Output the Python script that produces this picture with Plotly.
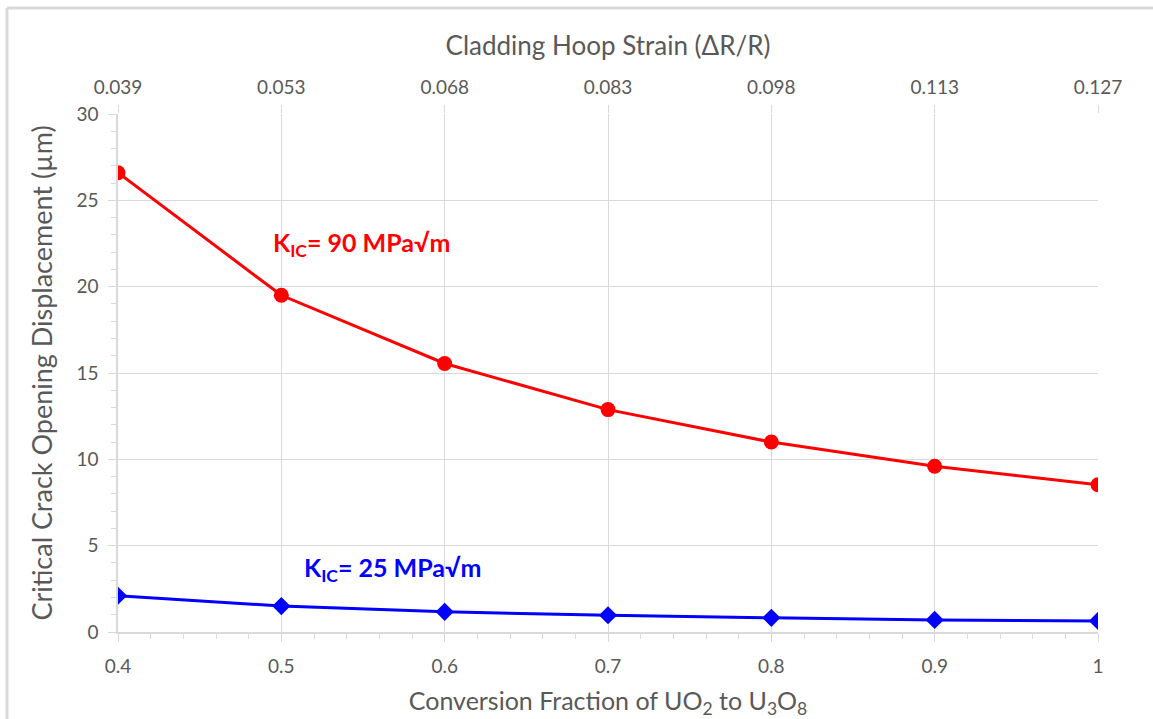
import plotly.graph_objects as go

conversion = [0.4, 0.5, 0.6, 0.7, 0.8, 0.9, 1.0]
conversion_labels = ["0.4", "0.5", "0.6", "0.7", "0.8", "0.9", "1"]
strain_labels = ["0.039", "0.053", "0.068", "0.083", "0.098", "0.113", "0.127"]
ctod_k90 = [26.6, 19.5, 15.55, 12.88, 11.0, 9.6, 8.53]
ctod_k25 = [2.1, 1.5, 1.17, 0.97, 0.82, 0.7, 0.64]

FONT = "Lato"
GRAY = "#595959"
GRID = "#d9d9d9"

fig = go.Figure()
fig.add_trace(go.Scatter(x=conversion, y=ctod_k90, mode="lines+markers",
                         line=dict(color="#ff0000", width=3),
                         marker=dict(symbol="circle", size=15, color="#ff0000"),
                         showlegend=False))
fig.add_trace(go.Scatter(x=conversion, y=ctod_k25, mode="lines+markers",
                         line=dict(color="#0000ff", width=3),
                         marker=dict(symbol="diamond", size=14, color="#0000ff"),
                         showlegend=False))
# invisible trace on top axis
fig.add_trace(go.Scatter(x=conversion, y=ctod_k90, xaxis="x2", mode="markers",
                         marker=dict(opacity=0), hoverinfo="skip", showlegend=False))

fig.update_layout(
    width=1153, height=719,
    margin=dict(l=118, r=55, t=114, b=87),
    paper_bgcolor="white", plot_bgcolor="white",
    font=dict(family=FONT, color=GRAY),
    xaxis=dict(range=[0.4, 1.0], tickvals=conversion, ticktext=conversion_labels,
               automargin=False,
               showgrid=True, gridcolor=GRID, gridwidth=1,
               showline=True, linecolor=GRID, linewidth=1.5,
               ticks="outside", ticklen=8, tickcolor=GRID, ticklabelstandoff=8,
               minor=dict(dtick=0.02, ticks="outside", ticklen=5, tickcolor=GRID, showgrid=False),
               tickfont=dict(size=19, color=GRAY), zeroline=False,
               title=dict(text="Conversion Fraction of UO<sub>2</sub> to U<sub>3</sub>O<sub>8</sub>",
                          font=dict(size=25, color=GRAY), standoff=18)),
    xaxis2=dict(overlaying="x", side="top", range=[0.4, 1.0], tickvals=conversion, ticktext=strain_labels,
                automargin=False,
                showgrid=False, showline=False, ticks="outside", ticklen=8, tickcolor=GRID,
                ticklabelstandoff=3,
                tickfont=dict(size=19, color=GRAY), zeroline=False,
                title=dict(text="Cladding Hoop Strain (ΔR/R)", font=dict(size=26, color=GRAY), standoff=12)),
    yaxis=dict(range=[0, 30], dtick=5, showgrid=True, gridcolor=GRID, gridwidth=1,
               automargin=False,
               showline=True, linecolor=GRID, linewidth=1.5,
               ticks="outside", ticklen=8, tickcolor=GRID, ticklabelstandoff=6,
               minor=dict(dtick=1, ticks="outside", ticklen=5, tickcolor=GRID, showgrid=False),
               tickfont=dict(size=19, color=GRAY), zeroline=False,
               title=dict(text="Critical Crack Opening Displacement (µm)", font=dict(size=27, color=GRAY), standoff=16)),
    annotations=[
        dict(x=0.549, y=22.5, xref="x", yref="y", text="<b>K<sub>IC</sub>= 90 MPa√m</b>",
             showarrow=False, font=dict(size=25, color="#ff0000", family=FONT)),
        dict(x=0.568, y=3.65, xref="x", yref="y", text="<b>K<sub>IC</sub>= 25 MPa√m</b>",
             showarrow=False, font=dict(size=25, color="#0000ff", family=FONT)),
    ],
    shapes=[
        dict(type="line", xref="paper", yref="paper", x0=-0.1133, x1=-0.1133, y0=-0.2, y1=1.2046,
             line=dict(color="#d9d9d9", width=3)),
        dict(type="line", xref="paper", yref="paper", x0=-0.1133, x1=1.1, y0=1.2046, y1=1.2046,
             line=dict(color="#d9d9d9", width=3)),
    ],
)

fig.write_html("out.html")
